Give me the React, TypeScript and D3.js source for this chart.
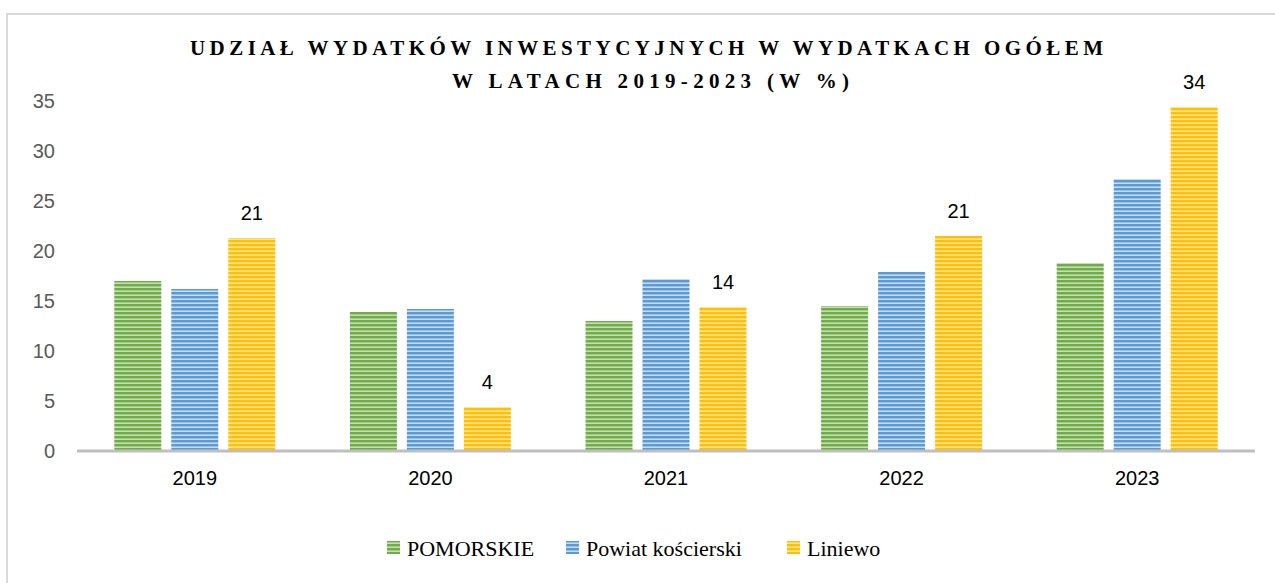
import React from "react";
import * as d3 from "d3";

const categories = ["2019", "2020", "2021", "2022", "2023"];
const seriesNames = ["POMORSKIE", "Powiat kościerski", "Liniewo"];
const pomorskie = [17.0, 13.9, 13.0, 14.5, 18.8];
const powiat = [16.2, 14.2, 17.2, 17.9, 27.2];
const liniewo = [21.3, 4.4, 14.4, 21.5, 34.4];
const liniewoLabels = ["21", "4", "14", "21", "34"];
const yTicks = [0, 5, 10, 15, 20, 25, 30, 35];
const titleLines = [
  "UDZIAŁ WYDATKÓW INWESTYCYJNYCH W WYDATKACH OGÓŁEM",
  "W LATACH 2019-2023 (W %)",
];

const colors = ["#70AD47", "#5B9BD5", "#FFC000"];
const lights = ["#C5DFB4", "#C9DDF2", "#FFE49A"];
const serif = "'Liberation Serif', 'DejaVu Serif', serif";
const sans = "'Liberation Sans', Arial, sans-serif";

export default function App() {
  const W = 1275, H = 583;
  const x0 = 77, x1 = 1255;
  const yZero = 451, yTop = 101;
  const x = d3.scaleBand<string>().domain(categories).range([x0, x1]);
  const y = d3.scaleLinear().domain([0, 35]).range([yZero, yTop]);
  const barW = 47, gap = 10;
  const groupW = barW * 3 + gap * 2;
  const data = [pomorskie, powiat, liniewo];

  const legendItems = [
    { x: 387, name: seriesNames[0] },
    { x: 566, name: seriesNames[1] },
    { x: 787, name: seriesNames[2] },
  ];

  return (
    <svg width={W} height={H} style={{ position: "absolute", left: 0, top: 0 }}>
      <defs>
        {colors.map((c, i) => (
          <pattern key={i} id={`stripe${i}`} width={6} height={4} patternUnits="userSpaceOnUse">
            <rect x={0} y={0} width={6} height={4} fill={lights[i]} />
            <rect x={0} y={0} width={6} height={2} fill={c} />
            <rect x={0} y={2} width={6} height={1} fill={d3.interpolateRgb(c, "#fff")(0.35)} />
          </pattern>
        ))}
      </defs>
      <rect x={0} y={0} width={W} height={H} fill="#fff" />
      <line x1={7} y1={14} x2={W} y2={14} stroke="#d9d9d9" strokeWidth={2} />
      <line x1={7} y1={13} x2={7} y2={H} stroke="#d9d9d9" strokeWidth={2} />

      {titleLines.map((t, i) => (
        <text
          key={i}
          x={i === 0 ? 190 : 452}
          y={i === 0 ? 55 : 88}
          textLength={i === 0 ? 913 : 397}
          lengthAdjust="spacing"
          fontFamily={serif}
          fontWeight="bold"
          fontSize={21}
          fill="#000"
        >
          {t}
        </text>
      ))}

      {yTicks.map((t) => (
        <text
          key={t}
          x={55}
          y={y(t)}
          dy="0.35em"
          textAnchor="end"
          fontFamily={sans}
          fontSize={20}
          fill="#595959"
        >
          {t}
        </text>
      ))}

      {categories.map((c, ci) => {
        const gx = (x(c) as number) + (x.bandwidth() - groupW) / 2;
        return (
          <g key={c}>
            {data.map((s, si) => {
              const bx = gx + si * (barW + gap);
              return (
                <rect
                  key={si}
                  x={bx}
                  y={y(s[ci])}
                  width={barW}
                  height={yZero - y(s[ci])}
                  fill={`url(#stripe${si})`}
                />
              );
            })}
            <text
              x={gx + 2 * (barW + gap) + barW / 2}
              y={y(liniewo[ci]) - 18}
              textAnchor="middle"
              fontFamily={sans}
              fontSize={20}
              fill="#000"
            >
              {liniewoLabels[ci]}
            </text>
            <text
              x={(x(c) as number) + x.bandwidth() / 2}
              y={478}
              dy="0.35em"
              textAnchor="middle"
              fontFamily={sans}
              fontSize={20}
              fill="#000"
            >
              {c}
            </text>
          </g>
        );
      })}

      <line x1={x0} y1={yZero} x2={x1} y2={yZero} stroke="#bfbfbf" strokeWidth={3} />

      {legendItems.map((l, i) => (
        <g key={i}>
          <rect x={l.x} y={541} width={13} height={13} fill={`url(#stripe${i})`} />
          <text x={l.x + 20} y={556} fontFamily={serif} fontSize={22} fill="#000">
            {l.name}
          </text>
        </g>
      ))}
    </svg>
  );
}
